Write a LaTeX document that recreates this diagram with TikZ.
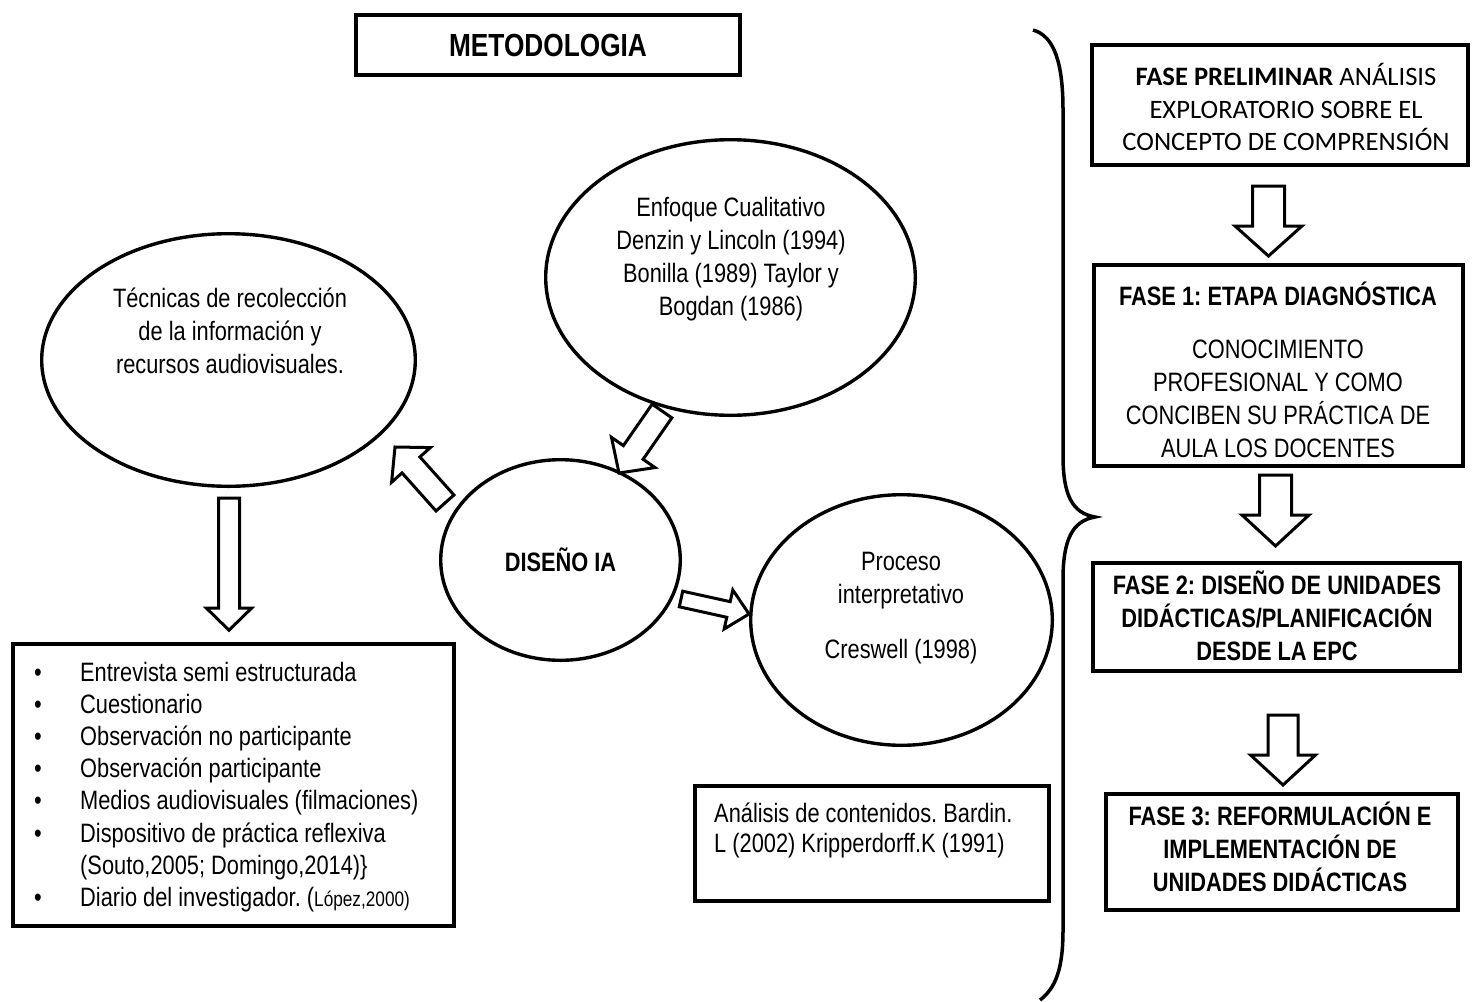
\documentclass[tikz,border=0pt]{standalone}
\usepackage{fontspec}
\setmainfont{Liberation Sans}[FakeStretch=0.82]
\newfontfamily\calibri{Carlito}
\usetikzlibrary{calc,shapes.geometric}
\frenchspacing

\newcommand\bodyfont{\fontsize{26.6pt}{33pt}\selectfont}

\tikzset{
  box/.style={draw, line width=4pt, rectangle, inner sep=0pt},
  oval/.style={draw, line width=3.4pt, ellipse, inner sep=0pt},
  txt/.style={inner sep=0pt, align=center, font=\bodyfont},
  blockarrow/.style={draw, line width=3pt, line join=miter, fill=white},
}

% hollow block arrow from #1 (tail) to #2 (tip):
% #3 shaft half width, #4 head half width, #5 head length
\newcommand\blockarrow[5]{%
  \coordinate (ba-neck) at ($(#2)!#5pt!(#1)$);
  \draw[blockarrow]
    ($(#1)!#3pt!90:(#2)$) -- ($(ba-neck)!#3pt!90:(#2)$) --
    ($(ba-neck)!#4pt!90:(#2)$) -- (#2) --
    ($(ba-neck)!#4pt!-90:(#2)$) -- ($(ba-neck)!#3pt!-90:(#2)$) --
    ($(#1)!#3pt!-90:(#2)$) -- cycle;}

\begin{document}
\frenchspacing
\begin{tikzpicture}[x=1pt, y=-1pt]
\useasboundingbox (0,0) rectangle (1472,1001);
\fill[white] (0,0) rectangle (1472,1001);

% ---------- title ----------
\node[box, minimum width=384pt, minimum height=60pt,
      font=\bfseries\fontsize{32pt}{38pt}\selectfont] (meto) at (548,45) {METODOLOGIA};

% ---------- ellipses ----------
\node[oval, minimum width=373.6pt, minimum height=252.6pt] (tec) at (228.5,360) {};
\node[txt] (tec-t) at (230,331) {Técnicas de recolección\\de la información y\\recursos audiovisuales.};

\node[oval, minimum width=369.6pt, minimum height=275.6pt] (enf) at (730.5,277.5) {};
\node[txt] (enf-t) at (731,259) {Enfoque Cualitativo\\Denzin y Lincoln (1994)\\Bonilla (1989) Taylor y\\Bogdan (1986)};

\node[oval, minimum width=239.6pt, minimum height=200.6pt, font=\bfseries\bodyfont] (dis) at (560.5,560) {DISEÑO IA};

\node[oval, minimum width=301.6pt, minimum height=250.6pt] (pro) at (901.5,620) {};
\node[txt] (pro-t) at (901,608) {Proceso\\interpretativo\\[22pt]Creswell (1998)};

% ---------- left list ----------
\node[box, line width=3.6pt, minimum width=441pt, minimum height=282pt] (list) at (233.5,785) {};
\node[txt, align=left, anchor=west, font=\fontsize{26.6pt}{32.1pt}\selectfont] (list-t) at (34,787) {%
  \makebox[46pt][l]{\textbullet}Entrevista semi estructurada\\
  \makebox[46pt][l]{\textbullet}Cuestionario\\
  \makebox[46pt][l]{\textbullet}Observación no participante\\
  \makebox[46pt][l]{\textbullet}Observación participante\\
  \makebox[46pt][l]{\textbullet}Medios audiovisuales (filmaciones)\\
  \makebox[46pt][l]{\textbullet}Dispositivo de práctica reflexiva\\
  \hspace*{46pt}(Souto,2005; Domingo,2014)\}\\
  \makebox[46pt][l]{\textbullet}Diario del investigador. ({\fontsize{21pt}{32.1pt}\selectfont López,2000)}};

% ---------- content analysis ----------
\node[box, minimum width=354pt, minimum height=115pt] (ana) at (872,843.5) {};
\node[txt, align=left, anchor=west, font=\fontsize{26.6pt}{30pt}\selectfont] (ana-t) at (714,830)
  {Análisis de contenidos. Bardin.\\L (2002) Kripperdorff.K (1991)};

% ---------- phases ----------
\node[box, minimum width=376pt, minimum height=120pt] (fp) at (1280,105) {};
\node[txt, font=\calibri\fontsize{26.6pt}{32.5pt}\selectfont] (fp-t) at (1286,107)
  {\textbf{FASE PRELIMINAR} ANÁLISIS\\EXPLORATORIO SOBRE EL\\CONCEPTO DE COMPRENSIÓN};

\node[box, minimum width=369pt, minimum height=201pt] (f1) at (1278.5,365.5) {};
\node[txt] (f1-t) at (1278,370)
  {\textbf{FASE 1: ETAPA DIAGNÓSTICA}\\[20pt]CONOCIMIENTO\\PROFESIONAL Y COMO\\CONCIBEN SU PRÁCTICA DE\\AULA LOS DOCENTES};

\node[box, minimum width=367pt, minimum height=108pt] (f2) at (1276.5,617) {};
\node[txt, font=\bfseries\bodyfont] (f2-t) at (1277,616)
  {FASE 2: DISEÑO DE UNIDADES\\DIDÁCTICAS/PLANIFICACIÓN\\DESDE LA EPC};

\node[box, minimum width=352pt, minimum height=116pt] (f3) at (1282,852) {};
\node[txt, font=\bfseries\bodyfont] (f3-t) at (1280,847)
  {FASE 3: REFORMULACIÓN E\\IMPLEMENTACIÓN DE\\UNIDADES DIDÁCTICAS};

% ---------- brace ----------
\draw[line width=3.5pt]
  (1033,30) .. controls (1055,36) and (1063,65) .. (1063,110)
  -- (1063,455) .. controls (1063,495) and (1072,513) .. (1095,517)
  .. controls (1072,521) and (1063,540) .. (1063,580)
  -- (1063,930) .. controls (1063,968) and (1056,988) .. (1040,1000);

% ---------- block arrows ----------
\coordinate (a1s) at ($(tec.south)+(0.5,10)$);
\coordinate (a1e) at ($(list.north)+(-4.5,-12)$);
\blockarrow{a1s}{a1e}{10.5}{22.5}{22}

\coordinate (a2s) at (445,503);
\coordinate (a2e) at (395,447);
\blockarrow{a2s}{a2e}{12}{26}{24}

\coordinate (a3s) at (662,411);
\coordinate (a3e) at (619,473);
\blockarrow{a3s}{a3e}{12}{26.5}{25}

\coordinate (a4s) at (681,599);
\coordinate (a4e) at (749,614);
\blockarrow{a4s}{a4e}{8}{20}{21}

\coordinate (a5s) at (1268.5,186);
\coordinate (a5e) at (1268.5,256);
\blockarrow{a5s}{a5e}{16}{33.5}{30}

\coordinate (a6s) at (1275.5,475);
\coordinate (a6e) at (1275.5,546);
\blockarrow{a6s}{a6e}{16}{33.5}{31}

\coordinate (a7s) at (1283,715);
\coordinate (a7e) at (1283,785);
\blockarrow{a7s}{a7e}{15}{32.5}{30}
\end{tikzpicture}
\end{document}
